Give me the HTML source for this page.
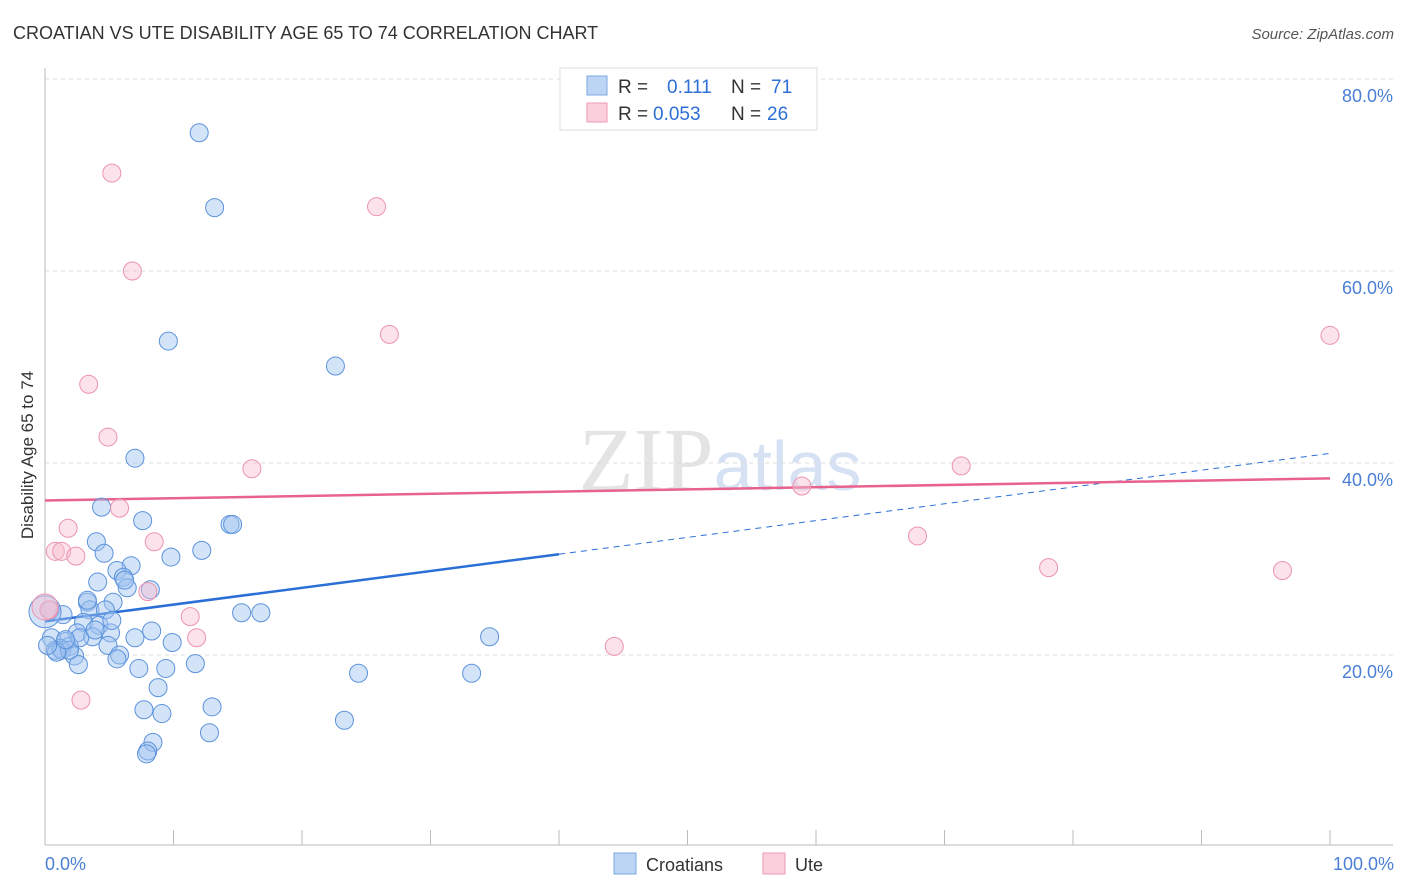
<!DOCTYPE html>
<html><head><meta charset="utf-8"><style>
body{margin:0;background:#fff;font-family:"Liberation Sans",sans-serif}
svg{display:block}
</style></head><body>
<svg id="chart" width="1406" height="892">
<text x="13" y="39" font-size="18" fill="#333">CROATIAN VS UTE DISABILITY AGE 65 TO 74 CORRELATION CHART</text>
<text x="1394" y="39" font-size="15" fill="#555" font-style="italic" text-anchor="end">Source: ZipAtlas.com</text>
<text x="720" y="490" font-size="90" fill="#e4e4e4" text-anchor="middle" font-family="Liberation Serif">ZIP<tspan fill="#d6e2f3" font-family="Liberation Sans" font-size="70">atlas</tspan></text>
<g id="grid"></g><g id="axes"></g><g id="trends"></g><g id="points"></g>
<text transform="translate(33,455) rotate(-90)" font-size="17" fill="#333" text-anchor="middle">Disability Age 65 to 74</text>
<text x="45" y="870" font-size="18" fill="#4a7fd4">0.0%</text>
<text x="1394" y="870" font-size="18" fill="#4a7fd4" text-anchor="end">100.0%</text>
<g>
<rect x="560" y="68" width="257" height="62" fill="#fff" stroke="#ddd"/>
<rect x="587" y="76" width="20" height="19" fill="#bcd5f5" stroke="#7aa8e0"/>
<rect x="587" y="103" width="20" height="19" fill="#fbcfdc" stroke="#ef9bb5"/>
<text x="618" y="93" font-size="19" fill="#333">R = <tspan x="667" fill="#2d6fd6">0.111</tspan><tspan x="731">N = </tspan><tspan x="771" fill="#2d6fd6">71</tspan></text>
<text x="618" y="120" font-size="19" fill="#333">R = <tspan x="653" fill="#2d6fd6">0.053</tspan><tspan x="731">N = </tspan><tspan x="767" fill="#2d6fd6">26</tspan></text>
</g>
<g>
<rect x="614" y="853" width="22" height="21" fill="#bcd5f5" stroke="#7aa8e0"/>
<text x="646" y="871" font-size="18" fill="#333">Croatians</text>
<rect x="763" y="853" width="22" height="21" fill="#fbcfdc" stroke="#ef9bb5"/>
<text x="795" y="871" font-size="18" fill="#333">Ute</text>
</g>
</svg>
<script>
const yTicks=[20,40,60,80];
const yTickLabels=["20.0%","40.0%","60.0%","80.0%"];
const xTicks=[0,10,20,30,40,50,60,70,80,90,100];
const croX=[12.0,13.2,9.6,22.6,7.0,4.4,7.6,14.4,14.6,4.0,4.6,9.8,12.2,6.7,5.6,6.1,4.1,6.4,8.2,5.3,3.3,15.3,16.8,3.5,4.7,1.4,3.0,4.2,8.3,5.1,7.0,2.5,3.7,1.6,0.5,9.9,4.9,1.2,1.9,0.8,1.3,2.3,5.8,5.6,11.7,7.3,9.4,2.6,24.4,33.2,8.8,13.0,7.7,9.1,12.8,23.3,8.4,8.0,7.9,34.6,0.4,1.9,2.7,3.3,0.9,6.2,5.2,3.9,1.6,0.2,0.0];
const croY=[74.4,66.6,52.7,50.1,40.5,35.4,34.0,33.6,33.6,31.8,30.6,30.2,30.9,29.3,28.8,28.1,27.6,27.0,26.8,25.5,25.5,24.4,24.4,24.7,24.7,24.2,23.4,23.1,22.5,22.3,21.8,22.3,21.9,21.4,21.8,21.3,21.0,20.7,20.9,20.5,20.5,19.9,20.0,19.6,19.1,18.6,18.6,19.0,18.1,18.1,16.6,14.6,14.3,13.9,11.9,13.2,10.9,10.0,9.7,21.9,24.7,20.5,21.8,25.7,20.3,27.8,23.6,22.6,21.6,21.0,24.5];
const uteX=[5.2,6.8,25.8,26.8,3.4,4.9,16.1,71.3,58.9,5.8,1.8,8.5,0.8,1.3,2.4,8.0,67.9,78.1,96.3,100,11.3,11.8,44.3,2.8,0.3,0.0];
const uteY=[70.2,60.0,66.7,53.4,48.2,42.7,39.4,39.7,37.6,35.3,33.2,31.8,30.8,30.8,30.3,26.6,32.4,29.1,28.8,53.3,24.0,21.8,20.9,15.3,24.7,25.0];
const croTrend=[23.5,0.175];
const uteTrend=[36.1,0.023];
const sx=v=>45+v*12.85, sy=v=>847-v*9.6;
const NS="http://www.w3.org/2000/svg";
function mk(tag,parent,attrs){const e=document.createElementNS(NS,tag);for(const k in attrs)e.setAttribute(k,attrs[k]);document.getElementById(parent).appendChild(e);return e;}
yTicks.forEach((t,i)=>{
 const g=mk('line','grid',{x1:45,x2:1393,y1:sy(t),y2:sy(t),stroke:'#ddd','stroke-dasharray':'4,4'});
 
 
 const l=mk('text','grid',{x:1393,y:sy(t)+23,'font-size':18,fill:'#4a7fd4','text-anchor':'end'});
 l.textContent=yTickLabels[i];
 
 
});
const ya=mk('line','axes',{x1:45,x2:45,y1:68,y2:845,stroke:'#bbb'});


const xa=mk('line','axes',{x1:45,x2:1393,y1:845,y2:845,stroke:'#bbb'});


xTicks.forEach(t=>{const k=mk('line','axes',{x1:sx(t),x2:sx(t),y1:830,y2:845,stroke:'#bbb'});
 
 });
const t1=mk('line','trends',{x1:sx(0),y1:sy(croTrend[0]),x2:sx(40),y2:sy(croTrend[0]+40*croTrend[1]),stroke:'#2a6fd6','stroke-width':2.5});


const t2=mk('line','trends',{x1:sx(40),y1:sy(croTrend[0]+40*croTrend[1]),x2:sx(100),y2:sy(croTrend[0]+100*croTrend[1]),stroke:'#2a6fd6','stroke-width':1,'stroke-dasharray':'6,5'});


const t3=mk('line','trends',{x1:sx(0),y1:sy(uteTrend[0]),x2:sx(100),y2:sy(uteTrend[0]+100*uteTrend[1]),stroke:'#e8628d','stroke-width':2.5});


croX.forEach((x,i)=>{const big=x===0;const c=mk('circle','points',{cx:sx(x),cy:sy(croY[i]),r:big?16:9,fill:'rgba(160,196,240,0.45)',stroke:'#5b92dc','stroke-width':1});
 
 });
uteX.forEach((x,i)=>{const big=x===0;const c=mk('circle','points',{cx:sx(x),cy:sy(uteY[i]),r:big?13:9,fill:'rgba(248,190,208,0.45)',stroke:'#ec93b0','stroke-width':1});
 
 });
</script>
</body></html>
